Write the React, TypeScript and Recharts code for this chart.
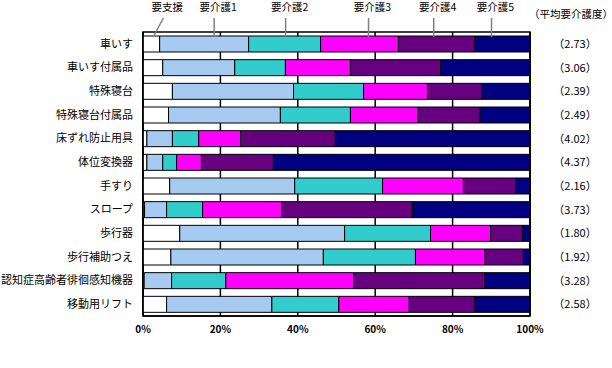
import {
  Bar,
  BarChart,
  CartesianGrid,
  LabelList,
  ReferenceArea,
  XAxis,
  YAxis,
} from "recharts";

const categories = [
  "車いす",
  "車いす付属品",
  "特殊寝台",
  "特殊寝台付属品",
  "床ずれ防止用具",
  "体位変換器",
  "手すり",
  "スロープ",
  "歩行器",
  "歩行補助つえ",
  "認知症高齢者徘徊感知機器",
  "移動用リフト",
];

// share of users by care level (%)
const support = [4.3, 5.1, 7.6, 6.6, 1.0, 1.0, 6.9, 0.4, 9.5, 7.2, 0.3, 6.1];
const care1 = [23.0, 18.6, 31.3, 28.9, 6.6, 4.1, 32.3, 5.7, 42.6, 39.4, 7.1, 27.2];
const care2 = [18.6, 13.1, 18.1, 18.1, 6.8, 3.6, 22.7, 9.3, 22.2, 23.8, 14.0, 17.3];
const care3 = [20.1, 16.8, 16.5, 17.5, 10.8, 6.4, 20.9, 20.4, 15.5, 18.0, 33.0, 18.2];
const care4 = [19.8, 23.3, 14.1, 16.0, 24.5, 18.6, 13.5, 33.8, 8.3, 9.9, 34.0, 17.0];
const care5 = [14.2, 23.1, 12.4, 12.9, 50.3, 66.3, 3.7, 30.4, 1.9, 1.7, 11.6, 14.2];

const avgLevel = ["2.73", "3.06", "2.39", "2.49", "4.02", "4.37", "2.16", "3.73", "1.80", "1.92", "3.28", "2.58"];

const xTicks = [0, 20, 40, 60, 80, 100];

const FONT = '"Noto Sans CJK JP", sans-serif';

const data = categories.map((name, i) => ({
  name,
  support: support[i],
  care1: care1[i],
  care2: care2[i],
  care3: care3[i],
  care4: care4[i],
  care5: care5[i],
  avg: avgLevel[i],
}));

// leader offsets are only cosmetic (where the callout lines sit on the first bar)
const series = [
  { key: "support", name: "要支援", color: "#FFFFFF", lineDx: 2, slant: 10 },
  { key: "care1", name: "要介護1", color: "#A6CAF0", lineDx: 10, slant: 0 },
  { key: "care2", name: "要介護2", color: "#33CCCC", lineDx: 1, slant: 0 },
  { key: "care3", name: "要介護3", color: "#FF00FF", lineDx: 9, slant: 0 },
  { key: "care4", name: "要介護4", color: "#660080", lineDx: -3, slant: 0 },
  { key: "care5", name: "要介護5", color: "#000080", lineDx: -11, slant: 0 },
];

function leader(s: (typeof series)[number], isLast: boolean) {
  return (props: any) => {
    const { x, y, width, height, index } = props;
    const bx = Number(x);
    const by = Number(y);
    const bw = Number(width);
    const bh = Number(height);
    const parts = [];
    if (index === 0) {
      const lx = bx + bw / 2 + s.lineDx;
      const topX = lx + s.slant;
      parts.push(
        <line key="l" x1={lx} y1={by + 1} x2={topX} y2={by - 18} stroke="#808080" strokeWidth={1.5} />,
        <text key="t" x={topX + 4} y={by - 25} textAnchor="middle" fontSize={10.5} fontFamily={FONT} fill="#000">
          {s.name}
        </text>
      );
      if (isLast) {
        parts.push(
          <text key="h" x={bx + bw + 41} y={by - 18} textAnchor="middle" fontSize={10.5} fontFamily={FONT} fill="#000">
            （平均要介護度）
          </text>
        );
      }
    }
    if (isLast) {
      parts.push(
        <text
          key={"a" + index}
          x={bx + bw + 45}
          y={by + bh / 2 + 4}
          textAnchor="middle"
          fontSize={11}
          fontFamily={FONT}
          fill="#000"
        >
          {"（" + data[index].avg + "）"}
        </text>
      );
    }
    return <g>{parts}</g>;
  };
}

export default function App() {
  return (
    <div style={{ position: "absolute", left: 0, top: 0, width: 612, height: 368, background: "#fff" }}>
      <BarChart
        width={612}
        height={368}
        data={data}
        layout="vertical"
        barSize={16}
        margin={{ top: 32, right: 82, bottom: 22, left: 0 }}
      >
        <CartesianGrid horizontal={false} stroke="#000" strokeWidth={1.5} />
        <XAxis
          type="number"
          domain={[0, 100]}
          ticks={xTicks}
          tickFormatter={(v: number) => `${v}%`}
          tickLine={false}
          axisLine={{ stroke: "#000", strokeWidth: 1.5 }}
          tick={{ fontSize: 10, fontWeight: "bold", fill: "#000", fontFamily: FONT }}
          tickMargin={4}
          interval={0}
        />
        <YAxis
          type="category"
          dataKey="name"
          width={143}
          tickLine={false}
          axisLine={{ stroke: "#000", strokeWidth: 1.5 }}
          tick={{ fontSize: 11, fill: "#000", fontFamily: FONT }}
          tickMargin={4}
          interval={0}
        />
        <ReferenceArea x1={0} x2={100} fill="none" stroke="#000" strokeWidth={1.5} />
        {series.map((s, i) => (
          <Bar
            key={s.key}
            dataKey={s.key}
            name={s.name}
            stackId="a"
            fill={s.color}
            stroke="#000"
            strokeWidth={1}
            isAnimationActive={false}
          >
            <LabelList dataKey={s.key} content={leader(s, i === series.length - 1)} />
          </Bar>
        ))}
      </BarChart>
    </div>
  );
}
